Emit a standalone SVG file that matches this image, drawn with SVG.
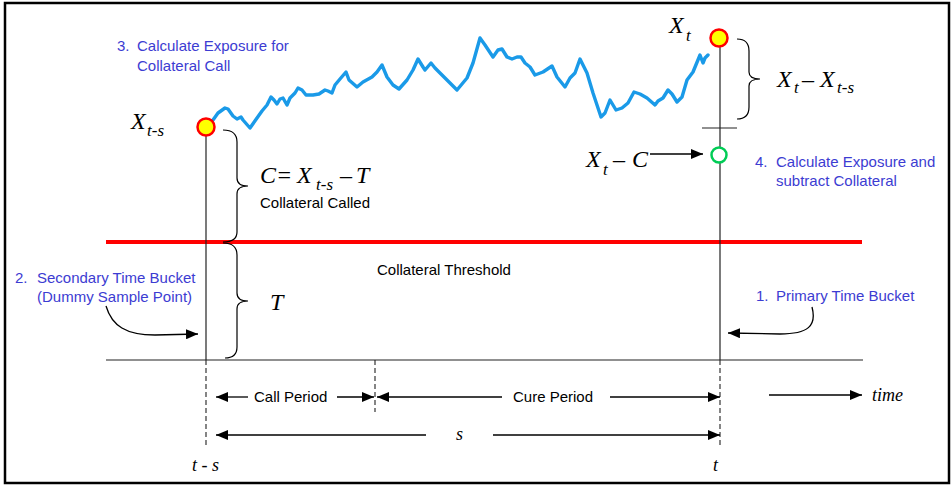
<svg xmlns="http://www.w3.org/2000/svg" width="952" height="488" viewBox="0 0 952 488">
<style>
.frame{fill:#fff;stroke:#000;stroke-width:2.5}
.ln{stroke:#222;stroke-width:1.2;fill:none}
.dash{stroke:#222;stroke-width:1.1;stroke-dasharray:5,3;fill:none}
.brace{stroke:#000;stroke-width:1.2;fill:none}
.arr{stroke:#000;stroke-width:1.3;fill:none}
.blue{font-family:"Liberation Sans",Arial,sans-serif;font-size:15px;fill:#3c3cd2}
.lab{font-family:"Liberation Sans",Arial,sans-serif;font-size:15px;fill:#000}
.math{font-family:"Liberation Serif","Times New Roman",serif;font-style:italic;font-size:24px;fill:#000}
.sub{font-size:17px}
.sm{font-family:"Liberation Serif","Times New Roman",serif;font-style:italic;font-size:18px;fill:#000}
.pt{fill:#ffff00;stroke:#ff0000;stroke-width:2.5}
</style>
<defs>
<marker id="ah" markerUnits="userSpaceOnUse" markerWidth="12" markerHeight="10" refX="12" refY="5" orient="auto-start-reverse">
<path d="M0,0 L12,5 L0,10 z" fill="#000"/>
</marker>
</defs>
<rect class="frame" x="5" y="3" width="944" height="480"/>

<g id="axes">
<line class="ln" x1="106" y1="360" x2="863" y2="360"/>
<line x1="106" y1="242" x2="862" y2="242" stroke="#ff0000" stroke-width="4"/>
<line class="ln" x1="206" y1="136" x2="206" y2="360"/>
<line class="ln" x1="720" y1="47" x2="720" y2="360"/>
<line class="ln" x1="702" y1="128" x2="737" y2="128"/>
<line class="dash" x1="206" y1="360" x2="206" y2="445"/>
<line class="dash" x1="375" y1="360" x2="375" y2="412"/>
<line class="dash" x1="720" y1="360" x2="720" y2="445"/>
</g>

<g id="path">
<polyline fill="none" stroke="#1a9ae8" stroke-width="3.4" stroke-linejoin="round" stroke-linecap="round" points="206,127 213,120 218,113 225,108 228,109 233,116 237,119 241,117 243,120 250,128 257,118 262,111 267,105 271,97 274,100 277,104 280,99 283,98 287,105 290,98 295,93 298,88 302,90 306,95 313,95 319,94 325,90 328,91 332,93 335,85 340,79 346,72 349,80 357,87 363,82 372,77 377,72 382,65 387,77 393,85 399,89 407,80 413,70 418,59 423,67 425,70 431,63 435,68 442,75 450,83 457,90 467,78 473,63 480,38 485,45 493,57 498,50 502,49 507,57 512,59 517,57 521,57 525,63 530,67 535,75 543,72 552,66 557,77 565,87 570,78 575,73 580,59 587,73 593,93 601,117 605,113 610,100 616,110 622,108 628,103 634,92 640,94 647,98 655,105 658,101 663,98 668,90 672,94 677,102 682,97 687,80 693,72 700,55 703,63 705,58 708,55"/>
</g>

<g id="point-xts">
<circle class="pt" cx="206" cy="127" r="8.5"/>
<text class="math" x="131" y="129">X<tspan class="sub" x="147" y="136">t-s</tspan></text>
</g>

<g id="point-xt">
<circle class="pt" cx="719" cy="38" r="8.5"/>
<text class="math" x="669" y="33">X<tspan class="sub" x="686" y="41">t</tspan></text>
</g>

<g id="point-xtc">
<circle cx="719" cy="155" r="7.5" fill="#fff" stroke="#00cc55" stroke-width="2.5"/>
<text class="math" x="586" y="167">X<tspan class="sub" x="603" y="175">t</tspan><tspan x="613" y="167">–</tspan><tspan x="632" y="167">C</tspan></text>
</g>

<g id="brace-c">
<path class="brace" d="M223,130 C233,130 237,134 237,142 L237,178 C237,183 241,186 248,186 C241,186 237,189 237,194 L237,232 C237,238 233,242 223,242"/>
<text class="math" x="260" y="183">C=<tspan x="297">X</tspan><tspan class="sub" x="316" y="190">t-s</tspan><tspan x="340" y="183">–</tspan><tspan x="356" y="183">T</tspan></text>
<text class="lab" x="260" y="208">Collateral Called</text>
</g>

<g id="brace-t">
<path class="brace" d="M223,243 C233,243 237,247 237,255 L237,293 C237,298 241,301 248,301 C241,301 237,304 237,309 L237,347 C237,354 233,358 225,358"/>
<text class="math" x="270" y="310">T</text>
</g>

<g id="brace-diff">
<path class="brace" d="M737,39 C745,39 749,43 749,51 L749,72 C749,77 753,79 760,79 C753,79 749,81 749,86 L749,107 C749,115 745,119 737,119"/>
<text class="math" x="777" y="87">X<tspan class="sub" x="794" y="93">t</tspan><tspan x="802" y="87">–</tspan><tspan x="820" y="87">X</tspan><tspan class="sub" x="837" y="93">t-s</tspan></text>
</g>

<g id="threshold">
<text class="lab" x="377" y="275">Collateral Threshold</text>
</g>

<g id="note-3">
<text class="blue" x="117" y="51">3.</text>
<text class="blue" x="137" y="51">Calculate Exposure for</text>
<text class="blue" x="137" y="71">Collateral Call</text>
</g>

<g id="note-4">
<text class="blue" x="755" y="167">4.</text>
<text class="blue" x="776" y="167">Calculate Exposure and</text>
<text class="blue" x="776" y="186">subtract Collateral</text>
</g>

<g id="note-2">
<text class="blue" x="15" y="283">2.</text>
<text class="blue" x="37" y="283">Secondary Time Bucket</text>
<text class="blue" x="37" y="302">(Dummy Sample Point)</text>
</g>

<g id="note-1">
<text class="blue" x="756" y="301">1.</text>
<text class="blue" x="776" y="301">Primary Time Bucket</text>
</g>

<g id="connectors">
<path class="arr" marker-end="url(#ah)" d="M106,306 C112,326 126,335 155,335 L198,334"/>
<path class="arr" marker-end="url(#ah)" d="M812,307 C817,326 808,334 780,334 L728,333"/>
<line class="arr" marker-end="url(#ah)" x1="650" y1="154" x2="703" y2="154"/>
<line class="arr" marker-end="url(#ah)" x1="769" y1="395" x2="862" y2="395"/>
<line class="arr" marker-start="url(#ah)" x1="216" y1="397" x2="248" y2="397"/>
<line class="arr" marker-end="url(#ah)" x1="337" y1="397" x2="374" y2="397"/>
<line class="arr" marker-start="url(#ah)" x1="377" y1="397" x2="502" y2="397"/>
<line class="arr" marker-end="url(#ah)" x1="610" y1="397" x2="720" y2="397"/>
<line class="arr" marker-start="url(#ah)" x1="216" y1="435" x2="426" y2="435"/>
<line class="arr" marker-end="url(#ah)" x1="493" y1="435" x2="720" y2="435"/>
</g>

<g id="timeline-labels">
<text class="lab" x="254" y="402">Call Period</text>
<text class="lab" x="513" y="402">Cure Period</text>
<text class="sm" x="456" y="440">s</text>
<text class="sm" x="872" y="401">time</text>
<text class="sm" x="192" y="471">t - s</text>
<text class="sm" x="713" y="471">t</text>
</g>
</svg>
